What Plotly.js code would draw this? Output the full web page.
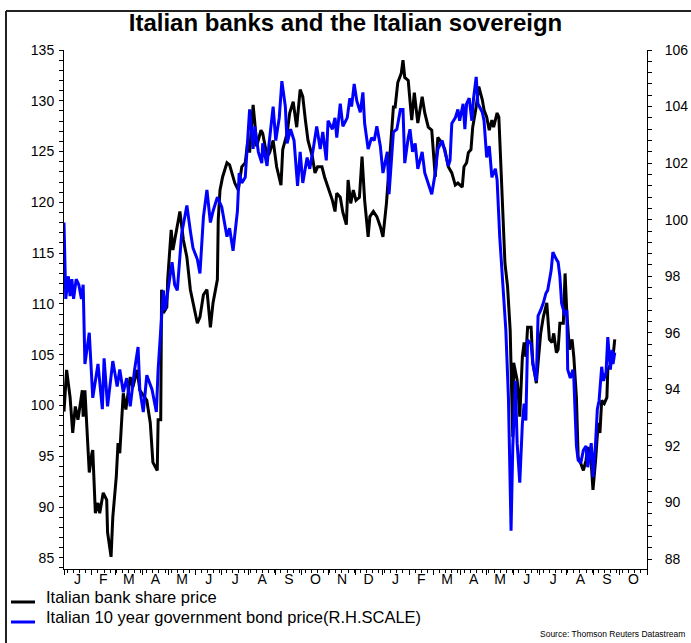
<!DOCTYPE html>
<html>
<head>
<meta charset="utf-8">
<script src="https://cdn.plot.ly/plotly-3.0.1.min.js"></script>
<style>html,body{margin:0;padding:0;background:#fff;}#chart{width:691px;height:643px;}</style>
</head>
<body>
<div id="chart"></div>
<script>
// x values: days since 1 Jan 2009
const START_DATE = '2009-01-01';
const blackDay = [
0,3,7,10,13,16,21,22,24,26,
29,32,33,36,39,41,45,49,50,54,
56,60,62,64,68,71,76,79,84,87,
95,99,102,107,108,111,112,114,118,119,
123,125,130,133,137,141,145,148,153,156,
160,164,168,171,176,177,179,182,187,190,
196,200,204,208,211,213,217,219,221,226,
228,233,236,240,244,249,251,256,259,263,
267,271,274,277,280,285,288,291,296,299,
303,308,311,313,317,320,324,326,329,332,
335,339,342,345,349,351,355,359,363,366,
370,373,378,380,383,387,389,391,395,399,
402,406,411,414,418,422,426,429,434,437,
441,445,449,452,457,459,462,464,467,469,
473,476,480,482,485,488,491,493,497,499,
503,505,506,509,512,514,515,516,520,521,
523,526,528,530,532,536,538,542,544,547,
550,554,557,560,562,565,567,569,573,575,
577,580,583,585,588,590,593,596,599,601,
605,607,610,613,615,617,620,623,624,628,
630,632];
// Italian bank share price (left scale)
const bankShares = [
99.4,103.5,100.8,97.3,99.9,98.6,101.5,98.9,101.5,98.6,
93.4,95.3,95.6,89.4,90.4,89.4,91.4,90.7,87.5,85.1,
89.0,93.0,96.3,95.3,101.2,99.6,102.8,101.8,103.5,101.5,
100.5,98.3,94.4,93.6,98.6,98.6,111.4,109.1,109.7,112.4,
117.3,115.3,117.6,119.1,116.3,114.6,111.4,110.1,108.1,108.7,
110.9,111.4,107.7,110.1,112.4,118.3,121.2,122.5,123.9,123.7,
121.9,121.2,123.5,123.9,126.1,124.9,129.6,127.8,125.5,127.1,
126.8,124.5,124.9,126.1,123.5,121.7,125.2,126.8,128.8,129.9,
127.4,131.1,130.4,128.1,126.1,124.5,122.9,123.5,123.5,122.5,
121.5,120.2,119.1,120.9,120.5,119.0,117.8,122.2,119.9,121.2,
120.2,120.5,124.5,120.2,116.6,118.6,119.1,118.6,117.6,116.6,
119.9,123.5,129.4,129.4,131.8,132.7,134.0,132.3,132.0,128.1,
130.8,127.8,130.4,128.8,127.4,127.1,122.5,126.4,125.8,125.2,
123.5,122.9,121.7,121.9,121.5,123.5,123.9,124.9,125.2,127.4,
129.4,131.4,130.1,129.1,128.4,127.1,128.1,127.4,128.8,128.4,
119.5,116.0,114.0,111.7,107.4,100.2,96.9,104.2,102.5,101.5,
98.9,104.8,106.2,104.8,107.7,107.7,104.2,102.2,104.5,107.1,
108.7,110.1,106.5,106.2,107.1,105.2,105.5,108.1,108.1,113.0,
109.1,105.5,106.5,104.8,100.8,94.9,94.3,93.6,94.6,95.9,
94.3,91.7,94.6,98.3,97.3,100.5,100.2,100.8,103.5,104.2,
104.8,106.5];

const blueDay = [
0,1,2,5,7,9,11,14,17,20,
22,24,29,33,39,44,46,50,56,61,
64,68,72,76,81,85,87,91,95,101,
106,108,111,114,116,119,124,127,130,135,
141,145,148,153,156,160,164,168,171,176,
181,187,190,194,199,201,204,208,211,213,
217,219,223,227,228,233,235,240,243,247,
250,254,256,260,264,268,271,274,279,282,
286,290,294,297,301,303,308,311,313,317,
320,325,328,330,333,336,340,343,345,349,
353,356,359,363,366,371,373,378,382,386,
389,391,395,397,400,403,406,411,414,418,
422,426,429,434,437,441,443,445,449,452,
454,458,460,462,465,468,470,473,475,480,
482,485,488,491,495,497,500,504,507,510,
513,515,518,520,523,526,528,530,532,536,
538,542,544,547,550,553,555,559,561,565,
567,569,571,575,577,578,581,584,585,588,
590,593,596,599,601,605,607,610,612,614,
617,619,622,624,627,629,630,632];
// Italian 10 year government bond price (right scale)
const bondPrice = [
99.9,98.2,97.2,98.0,97.3,97.9,97.2,97.9,97.7,97.2,
97.7,94.9,96.0,93.7,94.9,93.3,95.1,93.4,95.0,94.1,
94.7,93.9,94.4,93.4,94.7,95.5,94.0,93.2,94.5,94.0,
93.2,94.7,96.1,97.5,96.8,97.5,98.5,97.7,97.5,99.5,
100.5,99.6,99.0,98.6,98.1,100.1,101.05,99.9,100.3,100.8,
100.45,99.4,99.7,98.9,100.3,101.65,101.3,101.5,103.1,103.9,
102.5,103.3,102.4,102.0,102.7,101.9,102.6,104.0,102.8,103.6,
104.9,104.0,102.7,103.2,102.8,101.2,102.4,101.3,102.2,101.8,
102.5,103.3,102.5,103.1,102.1,103.5,103.2,103.6,102.9,104.1,
103.3,103.6,104.3,104.0,104.8,104.2,103.8,104.5,103.4,102.5,
102.9,102.8,103.3,102.6,101.65,102.4,100.9,103.1,103.2,103.9,
103.9,102.0,102.9,103.2,102.4,102.7,101.8,102.4,101.65,101.3,
100.9,101.65,102.5,102.8,102.4,101.9,102.1,103.4,103.6,103.9,
103.5,104.1,103.2,104.1,104.3,103.5,104.3,105.05,104.1,103.8,
103.5,102.2,102.6,101.5,101.8,101.4,99.4,97.6,96.1,93.7,
89.0,92.0,94.3,92.1,90.7,92.8,93.5,92.9,95.75,95.6,
94.9,94.3,96.6,96.8,97.05,97.4,97.5,98.2,98.85,98.6,
98.5,98.0,97.05,96.6,96.8,94.7,94.4,94.7,94.4,92.0,
91.5,91.4,91.85,92.0,91.25,92.1,90.9,92.1,93.3,93.6,
94.8,94.3,94.6,95.85,94.7,95.4,94.9,95.3];

const monthLetters = {Jan:'J',Feb:'F',Mar:'M',Apr:'A',May:'M',Jun:'J',Jul:'J',Aug:'A',Sep:'S',Oct:'O',Nov:'N',Dec:'D'};
const seriesNames = ['Italian bank share price','Italian 10 year government bond price(R.H.SCALE)'];
const seriesColors = ['#000000', '#0000ff'];

const base = Date.parse(START_DATE + 'T00:00:00Z');
const toDate = d => new Date(base + d * 86400000).toISOString().slice(0, 10);

const FONT = 'Liberation Sans, Arial, sans-serif';
const W = 691, H = 643, ML = 64, MR = 44, MT = 50, MB = 74;
const PW = W - ML - MR, PH = H - MT - MB;
const px = x => (x - ML) / PW;
const py = y => (H - MB - y) / PH;

const traces = [
  {x: blackDay.map(toDate), y: bankShares, type: 'scatter', mode: 'lines', name: seriesNames[0],
   line: {color: seriesColors[0], width: 3}, yaxis: 'y'},
  {x: blueDay.map(toDate), y: bondPrice, type: 'scatter', mode: 'lines', name: seriesNames[1],
   line: {color: seriesColors[1], width: 3}, yaxis: 'y2'}
];

// legend drawn as shapes + text so it does not push the plot margins
const legendRows = [{lineY: 602, textY: 597}, {lineY: 622, textY: 617}];
const legendShapes = legendRows.map((r, i) => ({type: 'line', xref: 'paper', yref: 'paper',
  x0: px(11), x1: px(35), y0: py(r.lineY), y1: py(r.lineY), line: {color: seriesColors[i], width: 3}}));
const legendTexts = legendRows.map((r, i) => ({text: seriesNames[i], xref: 'paper', yref: 'paper',
  x: px(44), y: py(r.textY), xanchor: 'left', yanchor: 'middle', showarrow: false,
  font: {family: FONT, size: 16.5, color: '#000'}}));

const layout = {
  width: W, height: H,
  margin: {l: ML, r: MR, t: MT, b: MB, pad: 0, autoexpand: false},
  paper_bgcolor: '#ffffff', plot_bgcolor: '#ffffff',
  font: {family: FONT, size: 14, color: '#000'},
  title: {text: '<b>Italian banks and the Italian sovereign</b>', font: {family: FONT, size: 24, color: '#000'},
          xref: 'container', x: 0.5, xanchor: 'center', yref: 'container', y: 1 - 23 / H, yanchor: 'middle'},
  showlegend: false,
  xaxis: {type: 'date', range: ['2009-01-01', '2010-11-01'], dtick: 'M1', tick0: '2009-01-01',
          ticklabelmode: 'period', tickformat: '%b', labelalias: monthLetters,
          ticks: 'outside', ticklen: 5, tickcolor: '#000', tickwidth: 1,
          minor: {dtick: 7 * 86400000, tick0: '2009-01-05', ticks: 'outside', ticklen: 3, tickcolor: '#000', showgrid: false},
          showline: true, linecolor: '#000', linewidth: 1, showgrid: false, zeroline: false,
          tickfont: {family: FONT, size: 14, color: '#000'}, ticklabelstandoff: -8, fixedrange: true},
  yaxis: {range: [83.9, 135], tick0: 85, dtick: 5, ticks: 'outside', ticklen: 4, tickcolor: '#000',
          minor: {dtick: 1, tick0: 85, ticks: 'outside', ticklen: 4, tickcolor: '#000', showgrid: false},
          showline: true, linecolor: '#000', linewidth: 1, showgrid: false, zeroline: false,
          tickfont: {family: FONT, size: 14, color: '#000'}, ticklabelstandoff: 2},
  yaxis2: {range: [87.65, 106], tick0: 88, dtick: 2, overlaying: 'y', side: 'right', ticks: 'outside', ticklen: 4, tickcolor: '#000',
          minor: {dtick: 0.4, tick0: 88, ticks: 'outside', ticklen: 4, tickcolor: '#000', showgrid: false},
          showline: true, linecolor: '#000', linewidth: 1, showgrid: false, zeroline: false,
          tickfont: {family: FONT, size: 14, color: '#000'}, ticklabelstandoff: 10},
  shapes: [
    {type: 'line', xref: 'paper', yref: 'paper', x0: px(6), x1: px(691), y0: py(11), y1: py(11), line: {color: '#222', width: 2}},
    {type: 'line', xref: 'paper', yref: 'paper', x0: px(6), x1: px(6), y0: py(11), y1: py(643), line: {color: '#222', width: 2}}
  ].concat(legendShapes),
  annotations: [
    {text: 'Source: Thomson Reuters Datastream', xref: 'paper', yref: 'paper', x: px(687), y: py(634),
     xanchor: 'right', yanchor: 'middle', showarrow: false,
     font: {family: FONT, size: 8.5, color: '#000'}}
  ].concat(legendTexts)
};

Plotly.newPlot('chart', traces, layout, {staticPlot: true, displayModeBar: false});
</script>
</body>
</html>
